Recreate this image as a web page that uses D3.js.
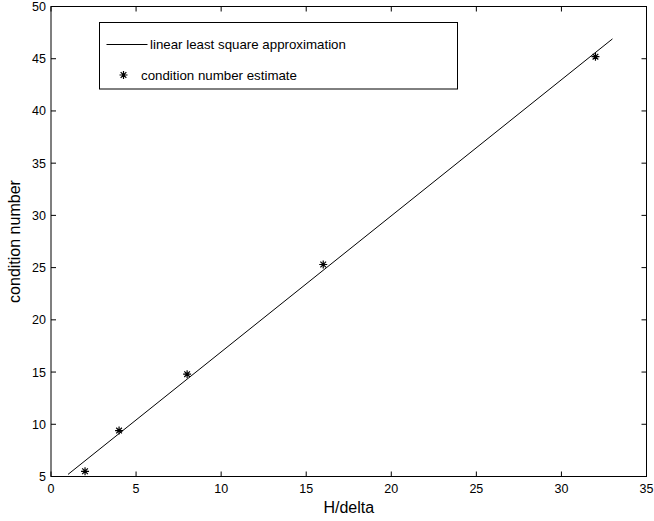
<!DOCTYPE html>
<html>
<head>
<meta charset="utf-8">
<script src="https://cdn.jsdelivr.net/npm/d3@7"></script>
<style>
  body { margin: 0; background: #fff; }
  svg { font-family: "Liberation Sans", Arial, sans-serif; }
</style>
</head>
<body>
<article></article>
<script>
const m = {
    width: 654,
    height: 521,
    left: 51,
    right: 646.5,
    top: 6.5,
    bottom: 476.5
}

// data
const hDelta = [2, 4, 8, 16, 32]
const condEstimate = [5.5, 9.4, 14.8, 25.3, 45.2]
const fitX = [1, 33]
const fitY = [5.2, 46.9]
const xTicks = [0, 5, 10, 15, 20, 25, 30, 35]
const yTicks = [5, 10, 15, 20, 25, 30, 35, 40, 45, 50]

const svg = d3.select("article").append('svg')
    .attr('width', m.width)
    .attr('height', m.height)

const x = d3.scaleLinear().domain([0, 35]).range([m.left, m.right])
const y = d3.scaleLinear().domain([5, 50]).range([m.bottom, m.top])

const tickLen = 5

// box
svg.append('rect')
    .attr('x', m.left)
    .attr('y', m.top)
    .attr('width', m.right - m.left)
    .attr('height', m.bottom - m.top)
    .attr('fill', 'none')
    .attr('stroke', '#000')
    .attr('stroke-width', 1)

// ticks on all four sides, pointing inwards
const xt = svg.append('g')
xTicks.forEach(function (t) {
    xt.append('line')
        .attr('x1', x(t)).attr('x2', x(t))
        .attr('y1', m.bottom).attr('y2', m.bottom - tickLen)
        .attr('stroke', '#000')
    xt.append('line')
        .attr('x1', x(t)).attr('x2', x(t))
        .attr('y1', m.top).attr('y2', m.top + tickLen)
        .attr('stroke', '#000')
    xt.append('text')
        .attr('x', x(t))
        .attr('y', m.bottom + 16.5)
        .attr('text-anchor', 'middle')
        .attr('font-size', 12.5)
        .text(t)
})

const yt = svg.append('g')
yTicks.forEach(function (t) {
    yt.append('line')
        .attr('x1', m.left).attr('x2', m.left + tickLen)
        .attr('y1', y(t)).attr('y2', y(t))
        .attr('stroke', '#000')
    yt.append('line')
        .attr('x1', m.right).attr('x2', m.right - tickLen)
        .attr('y1', y(t)).attr('y2', y(t))
        .attr('stroke', '#000')
    yt.append('text')
        .attr('x', m.left - 5)
        .attr('y', y(t) + 4.5)
        .attr('text-anchor', 'end')
        .attr('font-size', 12.5)
        .text(t)
})

// axis labels
svg.append('text')
    .attr('x', x(17.5))
    .attr('y', 513)
    .attr('text-anchor', 'middle')
    .attr('font-size', 16)
    .text('H/delta')

svg.append('text')
    .attr('transform', 'translate(20,' + y(27.5) + ') rotate(-90)')
    .attr('text-anchor', 'middle')
    .attr('font-size', 16)
    .text('condition number')

// least squares line
const line = d3.line()
    .x(function (d) { return x(d[0]) })
    .y(function (d) { return y(d[1]) })

svg.append('path')
    .datum(d3.zip(fitX, fitY))
    .attr('d', line)
    .attr('fill', 'none')
    .attr('stroke', '#000')
    .attr('stroke-width', 1)

// asterisk marker like matlab '*'
function star(r) {
    const d = r * 0.7071
    return 'M' + (-r) + ',0L' + r + ',0M0,' + (-r) + 'L0,' + r +
        'M' + (-d) + ',' + (-d) + 'L' + d + ',' + d +
        'M' + (-d) + ',' + d + 'L' + d + ',' + (-d)
}

svg.selectAll('.pt')
    .data(d3.zip(hDelta, condEstimate))
    .enter()
    .append('path')
    .attr('class', 'pt')
    .attr('transform', function (d) { return 'translate(' + x(d[0]) + ',' + y(d[1]) + ')' })
    .attr('d', star(4))
    .attr('fill', 'none')
    .attr('stroke', '#000')
    .attr('stroke-width', 1.2)

// legend
const lg = svg.append('g')
lg.append('rect')
    .attr('x', 99.5)
    .attr('y', 22.5)
    .attr('width', 358)
    .attr('height', 66.5)
    .attr('fill', '#fff')
    .attr('stroke', '#000')
    .attr('stroke-width', 1)

lg.append('line')
    .attr('x1', 106.5).attr('x2', 147.5)
    .attr('y1', 44.5).attr('y2', 44.5)
    .attr('stroke', '#000')
lg.append('text')
    .attr('x', 150)
    .attr('y', 49)
    .attr('font-size', 13.3)
    .text('linear least square approximation')

lg.append('path')
    .attr('transform', 'translate(123.5,75)')
    .attr('d', star(4))
    .attr('fill', 'none')
    .attr('stroke', '#000')
    .attr('stroke-width', 1.2)
lg.append('text')
    .attr('x', 141)
    .attr('y', 79.5)
    .attr('font-size', 13.3)
    .text('condition number estimate')
</script>
</body>
</html>
